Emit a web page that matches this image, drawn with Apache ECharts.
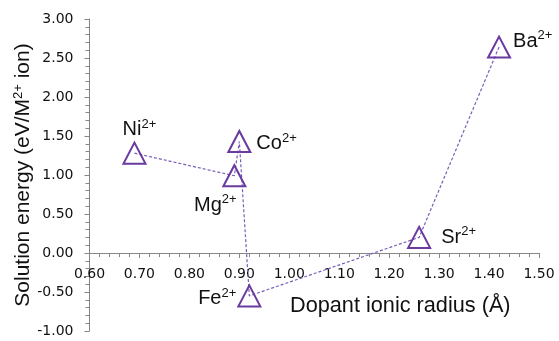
<!DOCTYPE html>
<html>
<head>
<meta charset="utf-8">
<script src="https://cdn.jsdelivr.net/npm/echarts@6/dist/echarts.min.js"></script>
<style>
html,body{margin:0;padding:0;background:#fff;}
#chart{width:559px;height:341px;}
</style>
</head>
<body>
<div id="chart"></div>
<script>
// Data
const ions = ['Ni', 'Mg', 'Co', 'Fe', 'Sr', 'Ba'];
const charge = '2+';
const radius = [0.69, 0.89, 0.90, 0.92, 1.26, 1.42];
const energy = [1.28, 0.99, 1.43, -0.55, 0.20, 2.64];
const yMin = -1, yMax = 3;

// label placement (style only)
const labelPlace = {
  Ni: { position: 'top', offset: [5, 5] },
  Mg: { position: 'bottom', offset: [-19, 1] },
  Co: { position: 'right', offset: [0, 2] },
  Fe: { position: 'left', offset: [4, 3] },
  Sr: { position: 'right', offset: [5, 0] },
  Ba: { position: 'right', offset: [-3, -6] }
};

const purple = '#6a3aa0';
const richStyle = {
  a: { fontFamily: 'Liberation Sans', fontSize: 20, color: '#111', lineHeight: 24, verticalAlign: 'middle' },
  b: { fontFamily: 'Liberation Sans', fontSize: 13, color: '#111', lineHeight: 13, verticalAlign: 'top' }
};

const data = ions.map((n, i) => ({
  value: [radius[i], energy[i]],
  label: {
    show: true,
    position: labelPlace[n].position,
    offset: labelPlace[n].offset,
    distance: 5,
    formatter: '{a|' + n + '}{b|' + charge + '}',
    rich: richStyle
  }
}));

const W = 559, H = 341;
const grid = { left: 89.5, right: 20, top: 19, bottom: 10 };
const plotH = H - grid.top - grid.bottom;
// move the x axis up so that it crosses the y axis at zero
const xAxisOffset = -plotH * (0 - yMin) / (yMax - yMin);

const chart = echarts.init(document.getElementById('chart'), null, { renderer: 'canvas' });
chart.setOption({
  animation: false,
  backgroundColor: '#fff',
  grid: Object.assign({ containLabel: false, outerBoundsMode: 'none' }, grid),
  xAxis: {
    type: 'value', min: 0.6, max: 1.5, interval: 0.1,
    position: 'bottom',
    offset: xAxisOffset,
    axisLine: { onZero: false, lineStyle: { color: '#868686', width: 1 } },
    axisTick: { show: true, length: 5, lineStyle: { color: '#868686' } },
    minorTick: { show: true, splitNumber: 5, length: 4, lineStyle: { color: '#868686' } },
    splitLine: { show: false },
    axisLabel: { fontFamily: 'DejaVu Sans', fontSize: 14, color: '#111', margin: 14,
      formatter: v => v.toFixed(2) }
  },
  yAxis: {
    type: 'value', min: yMin, max: yMax, interval: 0.5,
    axisLine: { show: true, onZero: false, lineStyle: { color: '#868686', width: 1 } },
    axisTick: { show: true, length: 5, lineStyle: { color: '#868686' } },
    minorTick: { show: true, splitNumber: 5, length: 4, lineStyle: { color: '#868686' } },
    splitLine: { show: false },
    axisLabel: { fontFamily: 'DejaVu Sans', fontSize: 14, color: '#111', margin: 16,
      formatter: v => v.toFixed(2) },
    name: '{a|Solution energy (eV/M}{b|2+}{a| ion)}',
    nameLocation: 'middle',
    nameGap: 54,
    nameMoveOverlap: false,
    nameTextStyle: {
      rich: {
        a: { fontFamily: 'Liberation Sans', fontSize: 21, color: '#111', lineHeight: 24, verticalAlign: 'middle' },
        b: { fontFamily: 'Liberation Sans', fontSize: 13, color: '#111', lineHeight: 13, verticalAlign: 'top' }
      }
    }
  },
  graphic: [{
    type: 'text', left: 290, top: 295,
    style: { text: 'Dopant ionic radius (Å)', fontFamily: 'Liberation Sans', fontSize: 21.7, fill: '#111' }
  }],
  series: [{
    type: 'line',
    data: data,
    symbol: 'triangle',
    symbolSize: [22, 21],
    showAllSymbol: true,
    itemStyle: { color: 'rgba(255,255,255,0)', borderColor: purple, borderWidth: 2 },
    lineStyle: { color: '#7a5cb8', width: 1.2, type: [3, 2] },
    emphasis: { disabled: true }
  }]
});
</script>
</body>
</html>
